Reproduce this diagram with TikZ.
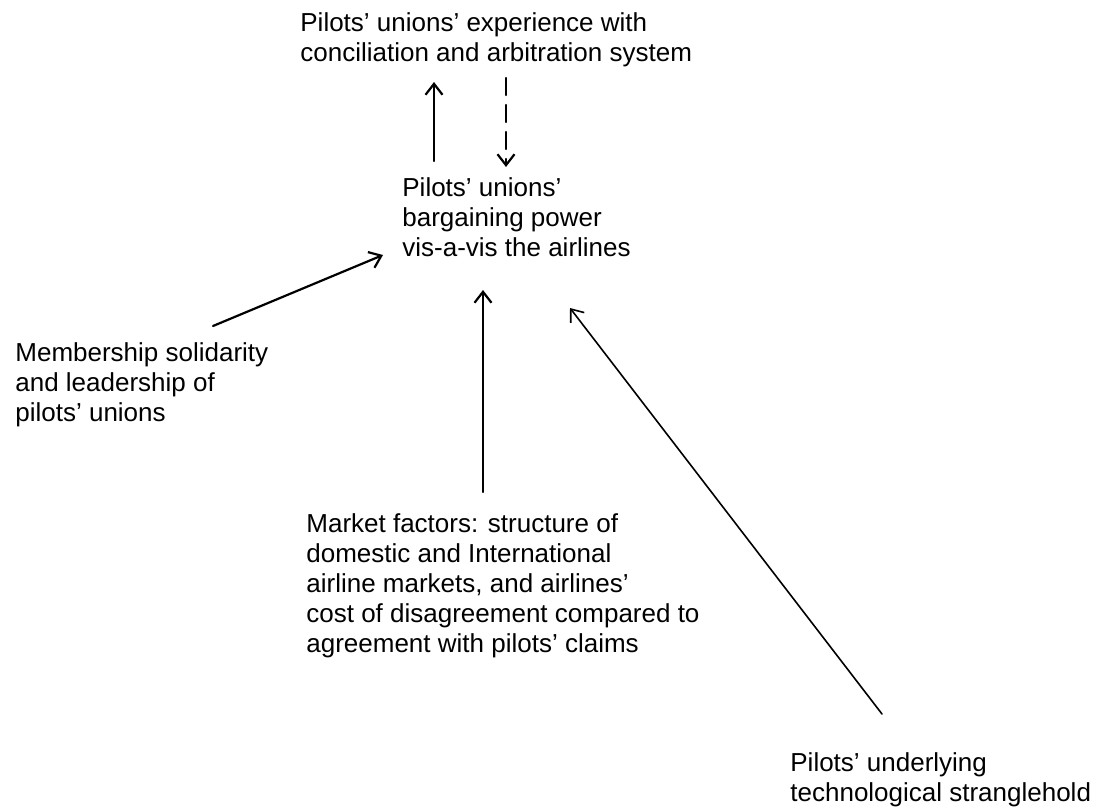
\documentclass[tikz,border=0pt]{standalone}
\usepackage{fontspec}
\setmainfont{Liberation Sans}
\usetikzlibrary{arrows.meta}
\tikzset{
  factor/.style={align=left,inner sep=0pt,anchor=base west},
  link/.style={->,line width=1.1pt},
}
\begin{document}
\begin{tikzpicture}[x=0.5pt,y=-0.5pt,line join=round,line cap=round,>={Straight Barb[length=5.5pt,width=8.5pt]},font=\fontsize{13}{15}\selectfont]
  \useasboundingbox (0,0) rectangle (1094,809);
  % factors (base = baseline of the last line)
  \node[factor] (exp) at (300,61) {Pilots' unions' experience with\\conciliation and arbitration system};
  \node[factor] (power) at (402,256) {Pilots' unions'\\bargaining power\\vis-a-vis the airlines};
  \node[factor] (member) at (15,421) {Membership solidarity\\and leadership of\\pilots' unions};
  \node[factor] (market) at (306,652) {Market factors: structure of\\domestic and International\\airline markets, and airlines'\\cost of disagreement compared to\\agreement with pilots' claims};
  \node[factor] (tech) at (790,801) {Pilots' underlying\\technological stranglehold};
  % arrow ends
  \coordinate (powerup) at (434,161);
  \coordinate (expdown) at (434,82);
  \coordinate (expout) at (506,78);
  \coordinate (powerin) at (506,167);
  \coordinate (memberout) at (213,326);
  \coordinate (powerleft) at (383,255);
  \coordinate (marketout) at (483,492);
  \coordinate (powerbelow) at (483,290);
  \coordinate (techout) at (882,714);
  \coordinate (powerright) at (570,308);
  \draw[link] (powerup) -- (expdown);
  \draw[link,dash pattern=on 8.5pt off 5pt] (expout) -- (powerin);
  \draw[link] (memberout) -- (powerleft);
  \draw[link] (marketout) -- (powerbelow);
  \draw[link,line width=0.8pt] (techout) -- (powerright);
\end{tikzpicture}
\end{document}
